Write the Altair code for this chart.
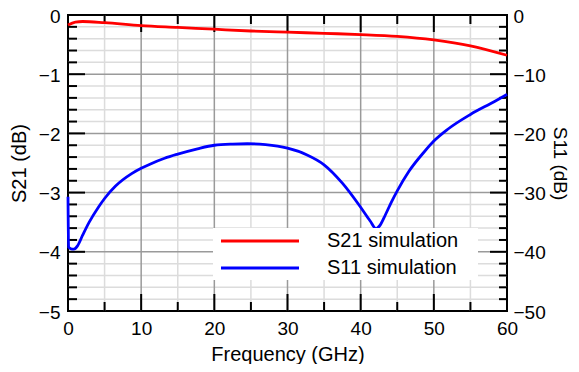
import altair as alt
import pandas as pd

# ---------------- data ----------------
freq_s21 = [0, 1, 2, 5, 10, 15, 20, 25, 30, 35, 40, 45, 50, 55, 60]
s21_db = [-0.17, -0.12, -0.11, -0.13, -0.18, -0.21, -0.24, -0.27, -0.29,
          -0.31, -0.33, -0.36, -0.42, -0.52, -0.68]

freq_s11 = [0, 0.08, 0.4, 0.8, 1.3, 2.0, 2.9, 4.2, 5, 6.5, 8.7, 10, 11.2,
            13.2, 15, 17.7, 20, 22.5, 24.5, 27, 30, 32.6, 35, 37.5, 39.9,
            41.3, 42.1, 42.6, 43.4, 44.2, 45.0, 46.6, 48.7, 50, 51.9, 55,
            58.3, 60]
s11_db = [-30.7, -39.2, -39.5, -39.55, -39.0, -37.2, -35.0, -32.4, -31.0,
          -28.9, -26.8, -25.9, -25.2, -24.2, -23.5, -22.6, -22.0, -21.8,
          -21.75, -21.9, -22.5, -23.6, -25.3, -28.4, -32.3, -34.8, -36.1,
          -35.6, -33.7, -31.6, -29.7, -26.4, -23.1, -21.3, -19.3, -16.8,
          -14.6, -13.4]

series_names = ["S21 simulation", "S11 simulation"]
series_colors = ["#ff0000", "#0000ff"]

x_ticks = [0, 10, 20, 30, 40, 50, 60]
x_minor = [5, 15, 25, 35, 45, 55]
s21_ticks = [0, -1, -2, -3, -4, -5]
s21_minor = [round(-0.2 * i, 1) for i in range(1, 25) if i % 5 != 0]
s11_ticks = [0, -10, -20, -30, -40, -50]
s11_minor = [-2 * i for i in range(1, 25) if i % 5 != 0]

# ---------------- styling ----------------
W, H = 439, 296
FONT = "Liberation Sans"
MAJOR_GRID = "#9a9a9a"
MINOR_GRID = "#dcdcdc"

xs = alt.Scale(domain=[0, 60], nice=False, zero=False)
ys21 = alt.Scale(domain=[-5, 0], nice=False, zero=False)
ys11 = alt.Scale(domain=[-50, 0], nice=False, zero=False)

axis_common = dict(ticks=False, domain=False, grid=False, labelFlush=False,
                   labelOverlap=False, labelFont=FONT, labelFontSize=19,
                   labelColor="black", titleFont=FONT, titleFontSize=20,
                   titleFontWeight="normal", titleColor="black")

# one shared x axis definition, used by every layer with an x field
x_axis = alt.Axis(values=x_ticks, title="Frequency (GHz)", labelPadding=8,
                  titlePadding=6, orient="bottom", **axis_common)


def vrules(values, color, width):
    return alt.Chart(pd.DataFrame({"f": values})).mark_rule(
        color=color, strokeWidth=width).encode(
        x=alt.X("f:Q", scale=xs, axis=x_axis))


def hrules(values, scale, color, width):
    return alt.Chart(pd.DataFrame({"v": values})).mark_rule(
        color=color, strokeWidth=width).encode(
        y=alt.Y("v:Q", scale=scale, axis=None))


def yticks(values, scale, x0, x1):
    return alt.Chart(pd.DataFrame({"v": values})).mark_rule(
        color="black", strokeWidth=2).encode(
        y=alt.Y("v:Q", scale=scale, axis=None),
        x=alt.value(x0), x2=alt.value(x1))


def xticks(values, y0, y1):
    return alt.Chart(pd.DataFrame({"f": values})).mark_rule(
        color="black", strokeWidth=2).encode(
        x=alt.X("f:Q", scale=xs, axis=x_axis),
        y=alt.value(y0), y2=alt.value(y1))


df21 = pd.DataFrame({"f": freq_s21, "db": s21_db})
df11 = pd.DataFrame({"f": freq_s11, "db": s11_db})

s21_line = alt.Chart(df21).mark_line(
    color=series_colors[0], strokeWidth=2.8, interpolate="monotone").encode(
    x=alt.X("f:Q", scale=xs, axis=x_axis),
    y=alt.Y("db:Q", scale=ys21, axis=alt.Axis(
        values=s21_ticks, title="S21 (dB)", orient="left", labelPadding=8,
        labelOffset=1, titlePadding=9, **axis_common)),
)

right_axis_style = dict(axis_common)
right_axis_style["titleFontSize"] = 19

s11_line = alt.Chart(df11).mark_line(
    color=series_colors[1], strokeWidth=2.8, interpolate="monotone").encode(
    x=alt.X("f:Q", scale=xs, axis=x_axis),
    y=alt.Y("db:Q", scale=ys11, axis=alt.Axis(
        values=s11_ticks, title="S11 (dB)", orient="right", labelPadding=6,
        labelOffset=1, titlePadding=4, **right_axis_style)),
)

layers = [
    vrules(x_minor, MINOR_GRID, 1.5),
    hrules(s21_minor, ys21, MINOR_GRID, 1.5),
    vrules(x_ticks[1:-1], MAJOR_GRID, 1.5),
    hrules(s21_ticks[1:-1], ys21, MAJOR_GRID, 1.5),
    yticks(s21_minor, ys21, 0, 9),
    yticks(s21_ticks, ys21, 0, 17),
    yticks(s11_minor, ys11, W - 8, W),
    yticks(s11_ticks, ys11, W - 17, W),
    xticks(x_minor, H - 9, H),
    xticks(x_ticks, H - 17, H),
    xticks(x_minor, 0, 9),
    xticks(x_ticks, 0, 17),
    s21_line,
    s11_line,
]

# ---------------- legend ----------------
layers.append(alt.Chart(pd.DataFrame({"a": [0]})).mark_rect(
    fill="white").encode(
    x=alt.value(145), x2=alt.value(410), y=alt.value(213), y2=alt.value(265)))

row_y = [226, 253]
for name, color, yy in zip(series_names, series_colors, row_y):
    d = pd.DataFrame({"name": [name]})
    layers.append(alt.Chart(d).mark_rule(
        color=color, strokeWidth=2.8).encode(
        x=alt.value(153), x2=alt.value(231), y=alt.value(yy)))
    layers.append(alt.Chart(d).mark_text(
        align="left", baseline="middle", font=FONT, fontSize=20,
        color="black").encode(
        text="name:N", x=alt.value(259), y=alt.value(yy)))

chart = alt.layer(*layers).resolve_scale(
    y="independent"
).properties(
    width=W, height=H,
    padding={"left": 60, "top": 7, "right": 64, "bottom": 53},
    autosize=alt.AutoSizeParams(type="none"),
    background="white",
).configure_view(stroke="black", strokeWidth=2)

chart.save("out.html", embed_options={"renderer": "svg", "actions": False})
